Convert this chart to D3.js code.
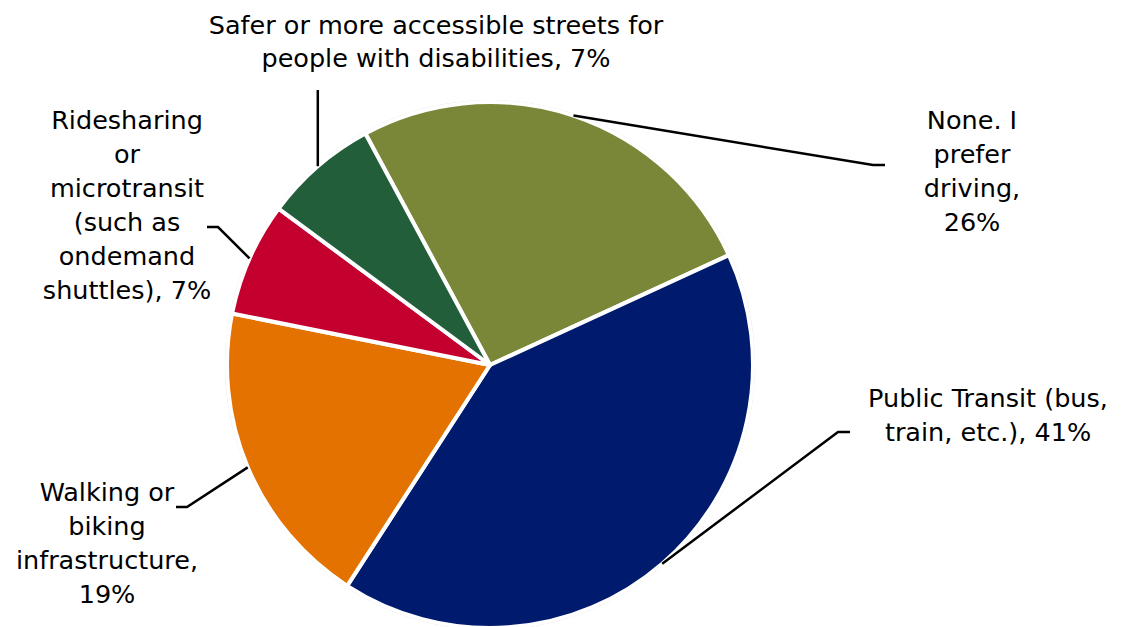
<!DOCTYPE html>
<html>
<head>
<meta charset="utf-8">
<script src="https://cdn.jsdelivr.net/npm/d3@7"></script>
<style>
  html, body { margin: 0; padding: 0; background: #fff; }
  svg { display: block; }
  text { font-family: "DejaVu Sans", sans-serif; fill: #000; }
</style>
</head>
<body>
<svg id="chart" width="1121" height="627"></svg>
<script>
// ---- data ----
const categories = [
  "None. I prefer driving",
  "Public Transit (bus, train, etc.)",
  "Walking or biking infrastructure",
  "Ridesharing or microtransit (such as ondemand shuttles)",
  "Safer or more accessible streets for people with disabilities"
];
const values = [26, 41, 19, 7, 7];
const labelLines = [
  ["None. I", "prefer", "driving,", "26%"],
  ["Public Transit (bus,", "train, etc.), 41%"],
  ["Walking or", "biking", "infrastructure,", "19%"],
  ["Ridesharing", "or", "microtransit", "(such as", "ondemand", "shuttles), 7%"],
  ["Safer or more accessible streets for", "people with disabilities, 7%"]
];
const colors = ["#7B8738", "#001A6E", "#E47200", "#C4002F", "#225E3A"];

// ---- layout ----
const W = 1121, H = 627;
const cx = 490, cy = 365, R = 263;
const startDeg = -28.3;
const labelPos = [
  {x: 972, y: 129, lh: 34, elbow: [[873,165],[885,165]]},
  {x: 988, y: 407, lh: 34, elbow: [[838,432],[850,432]]},
  {x: 107, y: 501, lh: 34, elbow: [[187,507],[176,507]]},
  {x: 127, y: 129, lh: 34, elbow: [[218,227],[207,227]]},
  {x: 436, y: 34,  lh: 33, elbow: [[null,90]]}
];

const svg = d3.select("#chart");
const g = svg.append("g").attr("transform", `translate(${cx},${cy})`);

const start = startDeg * Math.PI / 180;
const pie = d3.pie().sort(null).value(d => d)
  .startAngle(start).endAngle(start + 2 * Math.PI);
const arcs = pie(values);
const arc = d3.arc().innerRadius(0).outerRadius(R);

// faint outer ring
g.append("circle").attr("r", R + 1.5)
  .attr("fill", "none").attr("stroke", "#d9d9d9").attr("stroke-width", 1);

g.selectAll("path.slice").data(arcs).enter().append("path")
  .attr("class", "slice")
  .attr("d", arc)
  .attr("fill", (d, i) => colors[i])
  .attr("stroke", "#fff")
  .attr("stroke-width", 4)
  .attr("stroke-linejoin", "round");

// leader lines
const line = d3.line();
arcs.forEach((d, i) => {
  const mid = (d.startAngle + d.endAngle) / 2;
  const p0 = [cx + R * Math.sin(mid), cy - R * Math.cos(mid)];
  const pts = [p0].concat(labelPos[i].elbow.map(p => [p[0] === null ? p0[0] : p[0], p[1]]));
  svg.append("path").attr("d", line(pts))
    .attr("fill", "none").attr("stroke", "#000").attr("stroke-width", 2.5);
});

// labels
labelLines.forEach((lines, i) => {
  const lp = labelPos[i];
  const t = svg.append("text").attr("text-anchor", "middle")
    .attr("font-size", 25.5);
  lines.forEach((s, k) => {
    t.append("tspan").attr("x", lp.x).attr("y", lp.y + k * lp.lh).text(s);
  });
});
</script>
</body>
</html>
